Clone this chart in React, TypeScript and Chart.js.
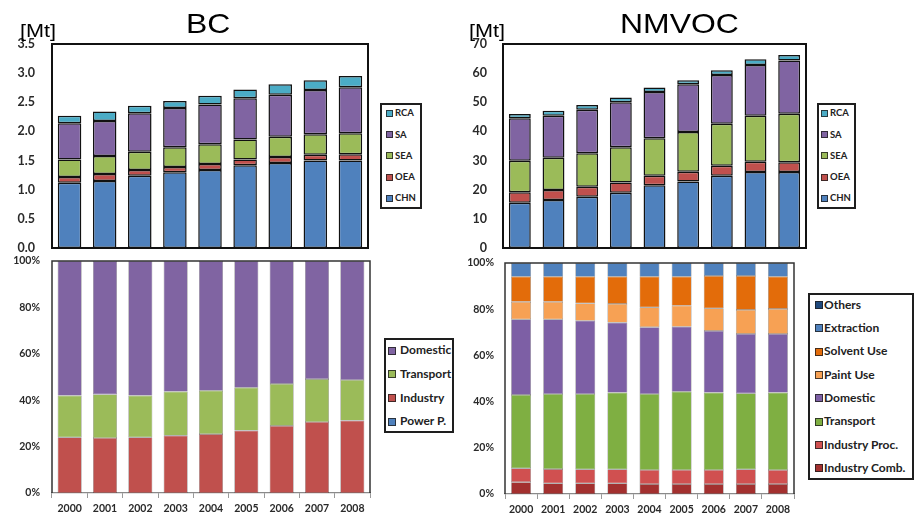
import React, { useEffect, useRef } from 'react';
import { Chart, registerables } from 'chart.js';

Chart.register(...registerables);

// ---------- data ----------
const years = ['2000', '2001', '2002', '2003', '2004', '2005', '2006', '2007', '2008'];

const regionLabels = ['CHN', 'OEA', 'SEA', 'SA', 'RCA'];
const regionColors = ['#4F81BD', '#C0504D', '#9BBB59', '#8064A2', '#4BACC6'];

// BC by region [Mt]
const bcCHN = [1.12, 1.15, 1.24, 1.30, 1.34, 1.42, 1.46, 1.50, 1.50];
const bcOEA = [0.10, 0.12, 0.10, 0.09, 0.10, 0.10, 0.10, 0.10, 0.11];
const bcSEA = [0.30, 0.31, 0.31, 0.34, 0.34, 0.34, 0.35, 0.35, 0.36];
const bcSA = [0.62, 0.60, 0.66, 0.67, 0.68, 0.71, 0.72, 0.76, 0.79];
const bcRCA = [0.13, 0.16, 0.13, 0.12, 0.15, 0.15, 0.18, 0.17, 0.19];

// NMVOC by region [Mt]
const nmCHN = [15.5, 16.5, 17.6, 19.0, 21.5, 22.8, 24.8, 26.1, 26.1];
const nmOEA = [3.6, 3.4, 3.4, 3.5, 3.3, 3.4, 3.4, 3.5, 3.3];
const nmSEA = [10.8, 11.1, 11.5, 12.1, 12.9, 13.6, 14.4, 15.8, 16.7];
const nmSA = [14.6, 14.4, 14.9, 15.4, 15.8, 16.4, 16.8, 17.4, 18.2];
const nmRCA = [1.5, 1.7, 1.7, 1.6, 1.6, 1.4, 1.6, 2.0, 1.9];

// BC by sector [%]
const bcSectorLabels = ['Power P.', 'Industry', 'Transport', 'Domestic'];
const bcSectorColors = ['#4F81BD', '#C0504D', '#9BBB59', '#8064A2'];
const bcPower = [0, 0, 0, 0, 0, 0, 0, 0, 0];
const bcIndustry = [24.0, 23.7, 24.0, 24.7, 25.4, 26.9, 28.9, 30.6, 31.2];
const bcTransport = [18.0, 18.8, 18.0, 19.0, 18.7, 18.5, 18.1, 18.5, 17.5];
const bcDomestic = [58.0, 57.5, 58.0, 56.3, 55.9, 54.6, 53.0, 50.9, 51.3];

// NMVOC by sector [%]
const nmSectorLabels = ['Industry Comb.', 'Industry Proc.', 'Transport', 'Domestic', 'Paint Use', 'Solvent Use', 'Extraction', 'Others'];
const nmSectorColors = ['#A3302F', '#D05050', '#7FAF42', '#7D5FA5', '#F7A154', '#E36C0A', '#4F81BD', '#1F497D'];
const nmIndComb = [5.1, 4.6, 4.6, 4.6, 4.3, 4.3, 4.3, 4.3, 4.3];
const nmIndProc = [6.0, 6.2, 6.1, 6.1, 6.1, 6.1, 6.1, 6.4, 6.1];
const nmTransport = [31.8, 32.5, 32.6, 33.2, 32.9, 33.9, 33.5, 32.9, 33.5];
const nmDomestic = [32.7, 32.3, 31.7, 30.3, 28.9, 28.1, 26.7, 25.7, 25.4];
const nmPaint = [7.6, 7.6, 7.5, 8.1, 8.6, 9.1, 9.8, 10.4, 10.8];
const nmSolvent = [10.9, 10.9, 11.6, 11.8, 13.3, 12.6, 14.0, 14.7, 14.0];
const nmExtraction = [5.9, 5.9, 5.9, 5.9, 5.9, 5.9, 5.6, 5.6, 5.9];
const nmOthers = [0, 0, 0, 0, 0, 0, 0, 0, 0];

const bcTicks = { min: 0, max: 3.5, step: 0.5 };
const nmTicks = { min: 0, max: 70, step: 10 };
const pctTicks = { min: 0, max: 100, step: 20 };

// ---------- chart helpers ----------
const framePlugin = {
  id: 'frame',
  afterDatasetsDraw(chart: any, _args: any, opts: any) {
    const { ctx, chartArea: a } = chart;
    ctx.save();
    ctx.strokeStyle = opts.color;
    ctx.lineWidth = opts.width;
    ctx.beginPath();
    if (opts.full) {
      ctx.rect(a.left, a.top, a.right - a.left, a.bottom - a.top);
    } else {
      ctx.moveTo(a.left, a.bottom);
      ctx.lineTo(a.left, a.top);
      ctx.lineTo(a.right, a.top);
      ctx.lineTo(a.right, a.bottom);
    }
    ctx.stroke();
    ctx.restore();
  },
};

const FONT = 'Lato, "Open Sans", sans-serif';

function barConfig(p: any) {
  return {
    type: 'bar',
    data: {
      labels: years,
      datasets: p.series.map((d: number[], i: number) => ({
        label: p.labels[i],
        data: d,
        backgroundColor: p.colors[i],
        borderColor: p.borderColor,
        borderWidth: d.every((v) => v === 0) ? 0 : p.borderWidth,
        borderSkipped: false,
        barPercentage: p.barPct,
        categoryPercentage: 1,
      })),
    },
    options: {
      responsive: false,
      animation: false,
      devicePixelRatio: 1,
      layout: { padding: p.padding },
      plugins: {
        legend: { display: false },
        tooltip: { enabled: false },
        frame: { color: p.frameColor, width: p.frameWidth, full: p.frameFull },
      },
      scales: {
        x: p.showX
          ? {
              stacked: true,
              grid: { display: true, drawOnChartArea: false, drawTicks: true, tickLength: 5, color: '#9a9a9a', offset: true },
              border: { display: true, color: '#8a8a8a', width: 1.2 },
              ticks: { font: { family: FONT, weight: 'bold', size: p.fontSize }, color: '#2a2a2a', padding: 4, maxRotation: 0, autoSkip: false },
              afterFit: (s: any) => {
                s.height = p.xHeight;
                s.paddingLeft = 0;
                s.paddingRight = 0;
              },
            }
          : { stacked: true, display: false },
        y: {
          stacked: true,
          min: p.ticks.min,
          max: p.ticks.max,
          ticks: {
            stepSize: p.ticks.step,
            callback: p.fmt,
            font: { family: FONT, weight: 'bold', size: p.fontSize },
            color: '#2a2a2a',
            padding: p.tickPad,
          },
          grid: { display: false, drawTicks: false },
          border: { display: false },
          afterFit: (s: any) => {
            s.width = p.yWidth;
            s.paddingTop = 0;
            s.paddingBottom = 0;
          },
        },
      },
    },
    plugins: [framePlugin],
  };
}

function ChartCanvas({ left, top, width, height, config }: any) {
  const ref = useRef<HTMLCanvasElement | null>(null);
  useEffect(() => {
    const chart = new Chart(ref.current as HTMLCanvasElement, config() as any);
    return () => chart.destroy();
  }, []);
  return (
    <canvas
      ref={ref}
      width={width}
      height={height}
      style={{ position: 'absolute', left, top, width, height, display: 'block' }}
    />
  );
}

function Legend({ box, labels, colors, firstY, spacing, fontSize, swatchX, swatchSize, textX, borderWidth }: any) {
  const order = labels.map((_: string, i: number) => i).reverse();
  return (
    <>
      <div
        style={{
          position: 'absolute',
          left: box.left,
          top: box.top,
          width: box.width,
          height: box.height,
          border: `${borderWidth}px solid #1e1e1e`,
          boxSizing: 'border-box',
          background: '#fff',
        }}
      />
      {order.map((idx: number, k: number) => {
        const cy = firstY + k * spacing;
        return (
          <React.Fragment key={labels[idx]}>
            <div
              style={{
                position: 'absolute',
                left: swatchX,
                top: cy - swatchSize / 2,
                width: swatchSize,
                height: swatchSize,
                background: colors[idx],
                border: '1px solid rgba(30,30,30,0.8)',
                boxSizing: 'border-box',
              }}
            />
            <div
              style={{
                position: 'absolute',
                left: textX,
                top: cy - fontSize * 0.62,
                fontFamily: FONT,
                fontWeight: 700,
                fontSize,
                lineHeight: `${fontSize * 1.2}px`,
                color: '#222',
                whiteSpace: 'nowrap',
              }}
            >
              {labels[idx]}
            </div>
          </React.Fragment>
        );
      })}
    </>
  );
}

function Label({ text, left, top, size }: any) {
  return (
    <div
      style={{
        position: 'absolute',
        left,
        top,
        fontFamily: '"Liberation Sans", Arial, sans-serif',
        fontSize: size,
        lineHeight: `${size}px`,
        color: '#000',
        whiteSpace: 'nowrap',
        transform: 'scaleX(1.14)',
        transformOrigin: 'left top',
      }}
    >
      {text}
    </div>
  );
}

export default function App() {
  const fmt1 = (v: any) => Number(v).toFixed(1);
  const fmt0 = (v: any) => String(v);
  const fmtPct = (v: any) => `${v}%`;

  return (
    <div style={{ position: 'absolute', left: 0, top: 0, width: 915, height: 515, background: '#fff', overflow: 'hidden' }}>
      <ChartCanvas
        left={0}
        top={0}
        width={375}
        height={255}
        config={() =>
          barConfig({
            series: [bcCHN, bcOEA, bcSEA, bcSA, bcRCA],
            labels: regionLabels,
            colors: regionColors,
            borderColor: '#111',
            borderWidth: 1.5,
            barPct: 0.67,
            padding: { top: 44, right: 7, bottom: 7, left: 0 },
            frameColor: '#111',
            frameWidth: 2,
            frameFull: true,
            showX: false,
            ticks: bcTicks,
            fmt: fmt1,
            fontSize: 12.5,
            tickPad: 17,
            yWidth: 52,
          })
        }
      />
      <ChartCanvas
        left={460}
        top={0}
        width={360}
        height={255}
        config={() =>
          barConfig({
            series: [nmCHN, nmOEA, nmSEA, nmSA, nmRCA],
            labels: regionLabels,
            colors: regionColors,
            borderColor: '#111',
            borderWidth: 1.5,
            barPct: 0.65,
            padding: { top: 44, right: 14, bottom: 7, left: 0 },
            frameColor: '#111',
            frameWidth: 2,
            frameFull: true,
            showX: false,
            ticks: nmTicks,
            fmt: fmt0,
            fontSize: 12.5,
            tickPad: 16,
            yWidth: 43,
          })
        }
      />
      <ChartCanvas
        left={0}
        top={255}
        width={375}
        height={260}
        config={() =>
          barConfig({
            series: [bcPower, bcIndustry, bcTransport, bcDomestic],
            labels: bcSectorLabels,
            colors: bcSectorColors,
            borderColor: 'rgba(50,50,50,0.6)',
            borderWidth: 0.6,
            barPct: 0.68,
            padding: { top: 6, right: 5, bottom: 0, left: 0 },
            frameColor: '#333',
            frameWidth: 1.5,
            frameFull: false,
            showX: true,
            xHeight: 22,
            ticks: pctTicks,
            fmt: fmtPct,
            fontSize: 10.5,
            tickPad: 12,
            yWidth: 52,
          })
        }
      />
      <ChartCanvas
        left={460}
        top={255}
        width={345}
        height={260}
        config={() =>
          barConfig({
            series: [nmIndComb, nmIndProc, nmTransport, nmDomestic, nmPaint, nmSolvent, nmExtraction, nmOthers],
            labels: nmSectorLabels,
            colors: nmSectorColors,
            borderColor: 'rgba(50,50,50,0.6)',
            borderWidth: 0.6,
            barPct: 0.62,
            padding: { top: 8, right: 11, bottom: 0, left: 0 },
            frameColor: '#333',
            frameWidth: 1.5,
            frameFull: false,
            showX: true,
            xHeight: 21,
            ticks: pctTicks,
            fmt: fmtPct,
            fontSize: 10.5,
            tickPad: 11,
            yWidth: 45,
          })
        }
      />

      <Label text="BC" left={186} top={9.6} size={28} />
      <Label text="NMVOC" left={620} top={9.6} size={28} />
      <Label text="[Mt]" left={20} top={20.5} size={19} />
      <Label text="[Mt]" left={469} top={20.5} size={19} />

      <Legend
        box={{ left: 380, top: 103, width: 42, height: 106 }}
        labels={regionLabels}
        colors={regionColors}
        firstY={113.3}
        spacing={21.25}
        fontSize={9.5}
        swatchX={386}
        swatchSize={7}
        textX={395}
        borderWidth={2}
      />
      <Legend
        box={{ left: 817, top: 103, width: 39, height: 106 }}
        labels={regionLabels}
        colors={regionColors}
        firstY={113.3}
        spacing={21.25}
        fontSize={9.5}
        swatchX={821}
        swatchSize={7}
        textX={830}
        borderWidth={2}
      />
      <Legend
        box={{ left: 384, top: 338, width: 70, height: 95 }}
        labels={bcSectorLabels}
        colors={bcSectorColors}
        firstY={350.7}
        spacing={23.7}
        fontSize={12}
        swatchX={388}
        swatchSize={8}
        textX={400}
        borderWidth={2}
      />
      <Legend
        box={{ left: 808, top: 293, width: 106, height: 187 }}
        labels={nmSectorLabels}
        colors={nmSectorColors}
        firstY={305}
        spacing={23.33}
        fontSize={12}
        swatchX={815}
        swatchSize={8}
        textX={824}
        borderWidth={2}
      />
    </div>
  );
}
